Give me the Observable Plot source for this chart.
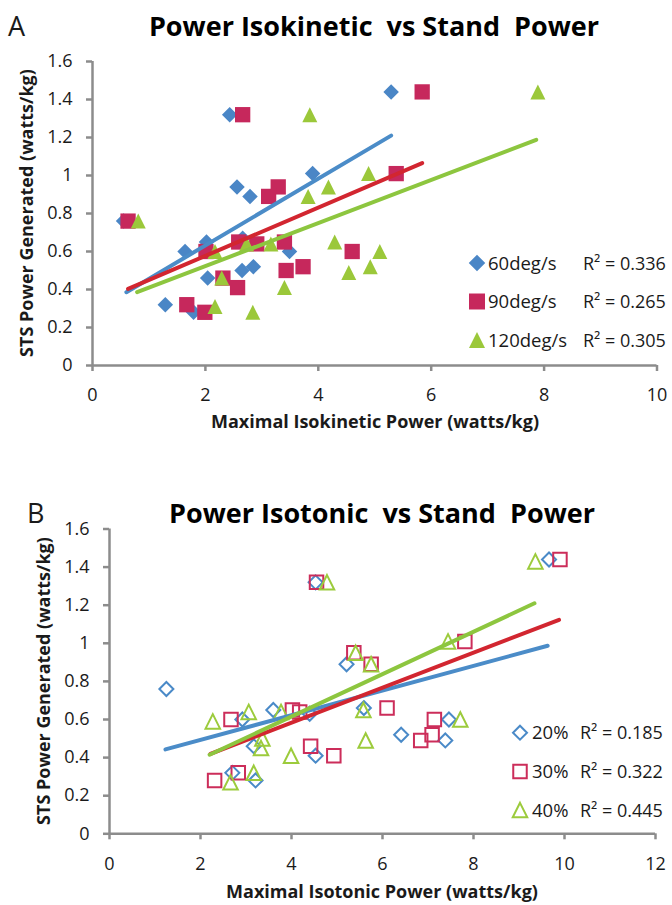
<!DOCTYPE html>
<html><head><meta charset="utf-8">
<script src="https://cdn.jsdelivr.net/npm/d3@7"></script>
<script src="https://cdn.jsdelivr.net/npm/@observablehq/plot@0.6"></script>
<style>
html,body{margin:0;padding:0;background:#fff;}
#page{position:relative;width:672px;height:905px;overflow:hidden;background:#fff;}
#page svg{position:absolute;left:0;}
</style></head><body><div id="page"></div>
<script>
// ---------- data ----------
const yTicks = [0, 0.2, 0.4, 0.6, 0.8, 1, 1.2, 1.4, 1.6];
const xTicksA = [0, 2, 4, 6, 8, 10];
const xTicksB = [0, 2, 4, 6, 8, 10, 12];

// Panel A: isokinetic
const speedLabels = ["60deg/s", "90deg/s", "120deg/s"];
const speedR2 = ["0.336", "0.265", "0.305"];
const isoK60x = [2.43, 5.29, 3.90, 2.56, 2.79, 0.55, 2.02, 2.66, 1.64, 3.49, 2.85, 2.65, 2.04, 1.29, 1.79];
const isoK60y = [1.32, 1.44, 1.01, 0.94, 0.89, 0.76, 0.65, 0.67, 0.60, 0.60, 0.52, 0.50, 0.46, 0.32, 0.28];
const isoK90x = [2.66, 5.84, 5.38, 3.29, 3.12, 0.63, 2.59, 2.91, 3.40, 2.01, 4.60, 3.73, 3.43, 2.31, 2.57, 1.67, 1.99];
const isoK90y = [1.32, 1.44, 1.01, 0.94, 0.89, 0.76, 0.65, 0.64, 0.65, 0.60, 0.60, 0.52, 0.50, 0.46, 0.41, 0.32, 0.28];
const isoK120x = [3.85, 7.89, 4.89, 4.18, 3.82, 0.81, 2.73, 3.16, 4.29, 2.17, 5.09, 4.92, 4.54, 2.29, 3.40, 2.17, 2.84];
const isoK120y = [1.32, 1.44, 1.01, 0.94, 0.89, 0.76, 0.64, 0.64, 0.65, 0.60, 0.60, 0.52, 0.49, 0.46, 0.41, 0.31, 0.28];
const trendAx1 = [0.60, 0.63, 0.79];
const trendAy1 = [0.386, 0.403, 0.386];
const trendAx2 = [5.29, 5.84, 7.86];
const trendAy2 = [1.21, 1.065, 1.188];

// Panel B: isotonic
const loadLabels = ["20%", "30%", "40%"];
const loadR2 = ["0.185", "0.322", "0.445"];
const isoT20x = [1.25, 3.60, 2.92, 3.17, 2.70, 3.21, 4.53, 4.53, 4.40, 5.21, 9.66, 5.59, 6.41, 7.46, 7.38];
const isoT20y = [0.76, 0.65, 0.60, 0.46, 0.32, 0.28, 1.32, 0.41, 0.63, 0.89, 1.44, 0.66, 0.52, 0.60, 0.49];
const isoT30x = [4.55, 2.67, 4.02, 4.18, 4.42, 4.93, 2.83, 2.31, 9.90, 5.37, 5.75, 7.81, 6.10, 7.14, 7.09, 6.84];
const isoT30y = [1.32, 0.60, 0.65, 0.64, 0.46, 0.41, 0.32, 0.28, 1.44, 0.95, 0.89, 1.01, 0.66, 0.60, 0.52, 0.49];
const isoT40x = [4.78, 2.27, 3.06, 3.77, 3.36, 3.33, 3.99, 3.17, 2.66, 9.36, 5.41, 5.75, 7.44, 5.58, 7.71, 5.63];
const isoT40y = [1.32, 0.59, 0.64, 0.64, 0.50, 0.45, 0.41, 0.32, 0.27, 1.43, 0.95, 0.89, 1.01, 0.65, 0.60, 0.49];
const trendBx1 = [1.23, 2.22, 2.20];
const trendBy1 = [0.443, 0.420, 0.415];
const trendBx2 = [9.63, 9.88, 9.34];
const trendBy2 = [0.987, 1.123, 1.21];

// ---------- styling ----------
const FONT = "'Open Sans', sans-serif";
const AXIS = "#8c8c8c";
const TXT = "#1a1a1a";
const markerColors = ["#4a86c6", "#c6285c", "#9bc83a"];
const hollowColors = ["#4a8ac8", "#cc2d5a", "#9ccb3c"];
const lineColors = ["#4b8cc8", "#d22630", "#8dc63f"];

const symDiamond = {draw(c, size) { const h = Math.sqrt(size) / 2; c.moveTo(0, -h); c.lineTo(h, 0); c.lineTo(0, h); c.lineTo(-h, 0); c.closePath(); }};
const symSquare = {draw(c, size) { const h = Math.sqrt(size) / 2; c.moveTo(-h, -h); c.lineTo(h, -h); c.lineTo(h, h); c.lineTo(-h, h); c.closePath(); }};
const symTriangle = {draw(c, size) { const h = Math.sqrt(size) / 2; c.moveTo(0, -h); c.lineTo(h, h); c.lineTo(-h, h); c.closePath(); }};
const symbols = [symDiamond, symSquare, symTriangle];
const rOf = s => s / Math.sqrt(Math.PI);

const rows = (xs, ys) => xs.map((x, i) => ({x, y: ys[i]}));
const trendRows = (x1, y1, x2, y2) => x1.map((v, i) => ({x1: v, y1: y1[i], x2: x2[i], y2: y2[i], k: i}));

function txt(g, x, y, s, o = {}) {
  const t = g.append("text").attr("x", x).attr("y", y)
    .attr("font-family", FONT).attr("fill", o.fill || TXT)
    .attr("font-size", o.size || 18).attr("text-anchor", o.anchor || "start")
    .attr("font-weight", o.weight || "normal").text(s);
  if (o.transform) t.attr("transform", o.transform);
  return t;
}

function panel(cfg) {
  const marks = [
    Plot.ruleX([0], {stroke: AXIS, strokeWidth: 2.5}),
    Plot.ruleY([0], {stroke: AXIS, strokeWidth: 2.5}),
    Plot.axisY(yTicks, {tickSize: 6, tickPadding: 14, stroke: AXIS, strokeWidth: 2.5, fill: TXT,
      tickFormat: d => String(+d.toFixed(1)), label: null, fontSize: 18}),
    Plot.axisX(cfg.xTicks, {tickSize: 6, tickPadding: 17, stroke: AXIS, strokeWidth: 2.5, fill: TXT,
      tickFormat: d => String(d), label: null, fontSize: 18})
  ];
  cfg.series.forEach((s, i) => {
    marks.push(Plot.dot(s, {x: "x", y: "y", symbol: symbols[i], r: rOf(cfg.sizes[i]),
      fill: cfg.hollow ? "none" : markerColors[i],
      stroke: cfg.hollow ? hollowColors[i] : "none", strokeWidth: cfg.hollow ? 2 : 0}));
  });
  cfg.trend.forEach((t, i) => {
    marks.push(Plot.link([t], {x1: "x1", y1: "y1", x2: "x2", y2: "y2", stroke: lineColors[i], strokeWidth: 4, strokeLinecap: "round"}));
  });
  const svg = Plot.plot({
    width: 672, height: cfg.height,
    marginTop: cfg.mt, marginBottom: cfg.mb, marginLeft: cfg.ml, marginRight: cfg.mr,
    x: {domain: cfg.xDomain, label: null},
    y: {domain: [0, 1.6], label: null},
    style: {fontFamily: FONT, fontSize: "18px", color: TXT, background: "transparent", overflow: "visible"},
    marks
  });
  const g = d3.select(svg).append("g").attr("text-anchor", "start");
  // panel letter and title
  txt(g, cfg.letterX, cfg.titleY, cfg.letter, {size: 27});
  txt(g, cfg.titleX, cfg.titleY, cfg.title, {size: 27, weight: "bold", anchor: "middle", fill: "#000"});
  // axis titles
  txt(g, 0, 0, "STS Power Generated (watts/kg)", {anchor: "middle", weight: "bold",
    transform: `translate(${cfg.yLabX},${cfg.yLabY}) rotate(-90)`});
  txt(g, cfg.xLabX, cfg.xLabY, cfg.xLabel, {anchor: "middle", weight: "bold"});
  // legend
  cfg.legend.labels.forEach((lab, i) => {
    const cy = cfg.legend.y0 + i * cfg.legend.dy;
    g.append("path").attr("transform", `translate(${cfg.legend.mx},${cy})`)
      .attr("d", d3.symbol(symbols[i], cfg.legendSizes[i] * cfg.legendSizes[i])())
      .attr("fill", cfg.hollow ? "none" : markerColors[i])
      .attr("stroke", cfg.hollow ? hollowColors[i] : "none").attr("stroke-width", 2);
    txt(g, cfg.legend.tx, cy + 6.5, lab, {size: 18.5});
    txt(g, cfg.legend.rx, cy + 6.5, "R² = " + cfg.legend.r2[i], {size: 18});
  });
  return svg;
}

const page = document.getElementById("page");

const svgA = panel({
  height: 450, mt: 61, mb: 85, ml: 92, mr: 15.5,
  xDomain: [0, 10], xTicks: xTicksA,
  series: [rows(isoK60x, isoK60y), rows(isoK90x, isoK90y), rows(isoK120x, isoK120y)],
  sizes: [15.5, 15.3, 15], hollow: false,
  trend: trendRows(trendAx1, trendAy1, trendAx2, trendAy2),
  letter: "A", letterX: 8, title: "Power Isokinetic  vs Stand  Power", titleX: 374, titleY: 36,
  yLabX: 33, yLabY: 213, xLabel: "Maximal Isokinetic Power (watts/kg)", xLabX: 375, xLabY: 428,
  legend: {labels: speedLabels, r2: speedR2, mx: 477, tx: 488, rx: 583, y0: 263, dy: 38.5},
  legendSizes: [16.5, 16, 16]
});
svgA.style.top = "0px";
page.appendChild(svgA);

const svgB = panel({
  height: 455, mt: 78.5, mb: 71.7, ml: 109, mr: 17,
  xDomain: [0, 12], xTicks: xTicksB,
  series: [rows(isoT20x, isoT20y), rows(isoT30x, isoT30y), rows(isoT40x, isoT40y)],
  sizes: [14, 13.5, 14.5], hollow: true,
  trend: trendRows(trendBx1, trendBy1, trendBx2, trendBy2),
  letter: "B", letterX: 27, title: "Power Isotonic  vs Stand  Power", titleX: 382, titleY: 73,
  yLabX: 50, yLabY: 231, xLabel: "Maximal Isotonic Power (watts/kg)", xLabX: 382, xLabY: 448,
  legend: {labels: loadLabels, r2: loadR2, mx: 520, tx: 532, rx: 580, y0: 282.7, dy: 38.7},
  legendSizes: [14, 13.5, 14.5]
});
svgB.style.top = "450px";
page.appendChild(svgB);
</script>
</body></html>
